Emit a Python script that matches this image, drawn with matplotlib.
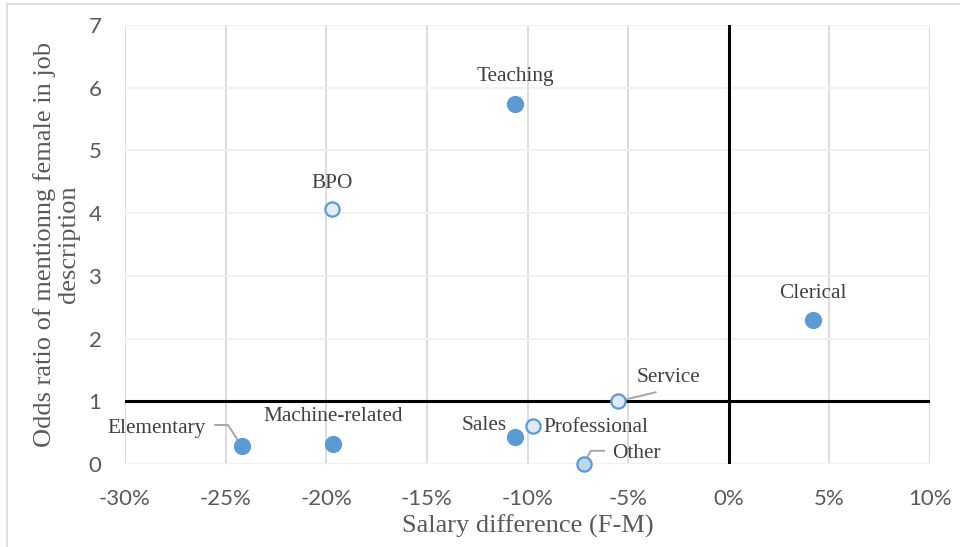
import matplotlib
matplotlib.use("Agg")
import matplotlib.pyplot as plt
from matplotlib.patches import Rectangle
from matplotlib.ticker import FuncFormatter

categories = ["Teaching", "BPO", "Clerical", "Service", "Elementary",
              "Machine-related", "Sales", "Professional", "Other"]
salary_diff = [-10.6, -19.7, 4.2, -5.5, -24.2, -19.65, -10.6, -9.75, -7.2]
odds_ratio = [5.74, 4.07, 2.30, 1.00, 0.29, 0.32, 0.43, 0.61, 0.00]
hollow = [False, True, False, True, False, False, False, True, True]

x_ticks = [-30, -25, -20, -15, -10, -5, 0, 5, 10]
y_ticks = [0, 1, 2, 3, 4, 5, 6, 7]

# label placement (offsets in points, text anchor)
label_style = {
    "Teaching": ((0, 19.5), "center"),
    "BPO": ((0, 18.5), "center"),
    "Clerical": ((0, 19), "center"),
    "Service": ((36, 17), "center"),
    "Elementary": ((-26, 12.5), "right"),
    "Machine-related": ((0, 19.5), "center"),
    "Sales": ((-6, 8.5), "right"),
    "Professional": ((8, -1.5), "left"),
    "Other": ((20, 7.5), "left"),
}
leaders = {
    "Service": [(0, 0), (27, 6.5)],
    "Elementary": [(0, 0), (-10, 15), (-19, 15)],
    "Other": [(0, 0), (5, 9.5), (14.5, 9.5)],
}

blue = "#5B9BD5"
hollow_fill = {"BPO": "#E4EDF8", "Service": "#DEEBF7", "Professional": "#DEEBF7", "Other": "#BDD7EE"}

fig = plt.figure(figsize=(9.6, 5.47), dpi=100)
ax = fig.add_axes([125/960, 1-464/547, (930-125)/960, (464-25)/547])

for c, x, y, h in zip(categories, salary_diff, odds_ratio, hollow):
    if h:
        ax.scatter(x, y, s=105, facecolor=hollow_fill.get(c, "#DEEBF7"), edgecolor=blue,
                   linewidth=1.6, zorder=5, clip_on=False)
    else:
        ax.scatter(x, y, s=130, facecolor=blue, edgecolor=blue, linewidth=1, zorder=5, clip_on=False)
    off, ha = label_style[c]
    ax.annotate(c, (x, y), xytext=off, textcoords="offset points", ha=ha, va="center",
                fontsize=15.3, family="Liberation Serif", color="#404040", zorder=6)


def draw_leader(x, y, pts):
    disp = ax.transData.transform((x, y))
    path = [(disp[0] + dx*fig.dpi/72, disp[1] + dy*fig.dpi/72) for dx, dy in pts]
    dat = ax.transData.inverted().transform(path)
    ax.plot(dat[:, 0], dat[:, 1], color="#A6A6A6", lw=1.4, zorder=4, clip_on=False)


ax.set_xlim(-30, 10)
ax.set_ylim(0, 7)
for c, pts in leaders.items():
    i = categories.index(c)
    draw_leader(salary_diff[i], odds_ratio[i], pts)

ax.axhline(1, color="black", lw=2.2, zorder=3)
ax.axvline(0, color="black", lw=2.2, zorder=3)

ax.set_xticks(x_ticks)
ax.set_yticks(y_ticks)
ax.xaxis.set_major_formatter(FuncFormatter(lambda v, p: f"{v:.0f}%"))
ax.grid(True, axis="x", color="#D9D9D9", lw=1.3, zorder=0)
ax.grid(True, axis="y", color="#F0F0F0", lw=1.3, zorder=0)
ax.set_axisbelow(True)
for s in ax.spines.values():
    s.set_visible(False)
ax.tick_params(length=0, labelsize=16, labelcolor="#595959")
ax.tick_params(axis="x", pad=18)
ax.tick_params(axis="y", pad=17)
for lab in ax.get_xticklabels() + ax.get_yticklabels():
    lab.set_family("Lato")

ax.set_xlabel("Salary difference (F-M)", family="Liberation Serif", fontsize=19, color="#595959", labelpad=4)
ax.set_ylabel("Odds ratio of mentionng female in job\ndescription", family="Liberation Serif",
              fontsize=19, color="#595959", labelpad=6, linespacing=1.12)

fig.patches.append(Rectangle((7/960, -0.1), 1.1, 1.1 - 4/547, transform=fig.transFigure,
                             fill=False, edgecolor="#D9D9D9", lw=1.2))

fig.savefig("out.png", dpi=100)
